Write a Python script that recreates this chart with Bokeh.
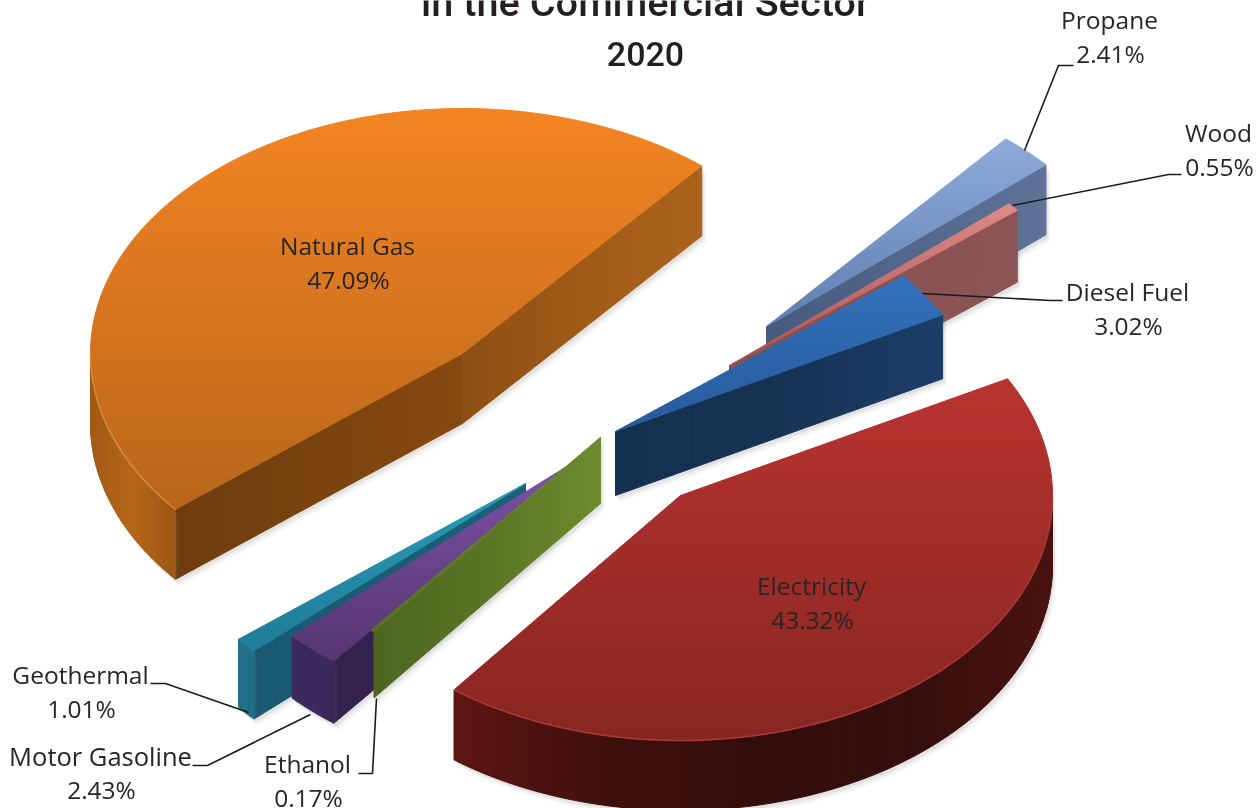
import math
from bokeh.plotting import figure
from bokeh.models import ColumnDataSource
from bokeh.core.properties import value
from bokeh.embed import file_html
from bokeh.resources import INLINE

# ---- data ----
categories = ["Natural Gas", "Propane", "Wood", "Diesel Fuel", "Electricity", "Ethanol", "Motor Gasoline", "Geothermal"]
shares = [47.09, 2.41, 0.55, 3.02, 43.32, 0.17, 2.43, 1.01]
share_labels = ["47.09%", "2.41%", "0.55%", "3.02%", "43.32%", "0.17%", "2.43%", "1.01%"]
title_lines = ["in the Commercial Sector", "2020"]

# ---- layout / style ----
FIRST_ANGLE = 230.5            # clockwise from "north" in the tilted pie plane
RX, RY = 372.0, 245.0
apex = {"Natural Gas": (462, 353), "Propane": (766, 326), "Wood": (729, 365), "Diesel Fuel": (615, 431),
        "Electricity": (680, 495), "Ethanol": (600, 437), "Motor Gasoline": (563, 468), "Geothermal": (525, 483)}
depth = {"Natural Gas": 70, "Propane": 70, "Wood": 72, "Diesel Fuel": 64,
         "Electricity": 70, "Ethanol": 66, "Motor Gasoline": 62, "Geothermal": 68}
top_cols = {"Natural Gas": ("#f48423", "#b8661b"), "Propane": ("#8eabd9", "#5f7fb1"), "Wood": ("#e08a88", "#a85553"),
            "Diesel Fuel": ("#3373bd", "#28599a"), "Electricity": ("#b83330", "#87251f"),
            "Ethanol": ("#6f8f30", "#55701f"), "Motor Gasoline": ("#7c51a5", "#553571"), "Geothermal": ("#2b9ab6", "#1f7c98")}
# wall colour stops run along the wall, left to right on screen
start_wall = {"Natural Gas": ("#6e3c0e", "#7a4310", "#87490f"), "Ethanol": ("#4c661f", "#5a7525", "#6c8c2e"),
              "Motor Gasoline": ("#34224d", "#35234f", "#35234f"), "Geothermal": ("#1a5a70", "#1b5c73", "#1c6078")}
end_wall = {"Natural Gas": ("#8c4f14", "#a05b17", "#ab631b"), "Propane": ("#475a7c", "#53678a", "#5f7398"),
            "Wood": ("#8c4f4f", "#8a5252", "#8c5555"), "Diesel Fuel": ("#14304f", "#173354", "#1c3e69")}
arc_wall = {"Natural Gas": ("#a05a14", "#b4661a", "#9c5714"),
            "Electricity": ("#5e1613", "#3f100d", "#330d0b", "#340e0c", "#4a1310"),
            "Motor Gasoline": ("#3d2a5c", "#3d2a5c", "#3b2858"), "Geothermal": ("#236f8a", "#227088", "#20708a")}
rims = {"Natural Gas": "#d98a3c", "Electricity": "#a93a36"}
paint_order = ["Natural Gas", "Propane", "Wood", "Diesel Fuel", "Geothermal", "Motor Gasoline", "Ethanol", "Electricity"]

text_place = {"Natural Gas": (347, 245), "Propane": (1109, 19), "Wood": (1218, 132), "Diesel Fuel": (1127, 291),
              "Electricity": (811, 585), "Ethanol": (307, 763), "Motor Gasoline": (100, 755), "Geothermal": (80, 674)}
leaders = {"Propane": ([1024, 1058, 1073], [150, 65, 65]), "Wood": ([1012, 1168, 1181], [205, 174, 174]),
           "Diesel Fuel": ([922, 1050, 1062], [293, 300, 300]), "Geothermal": ([248, 165, 150], [712, 683, 683]),
           "Motor Gasoline": ([310, 207, 192], [714, 765, 765]), "Ethanol": ([376, 372, 358], [698, 773, 773])}


def hex2rgb(h):
    return tuple(int(h[i:i + 2], 16) for i in (1, 3, 5))


def mix(stops, f):
    f = max(0.0, min(1.0, f)) * (len(stops) - 1)
    i = min(int(f), len(stops) - 2)
    a, b = hex2rgb(stops[i]), hex2rgb(stops[i + 1])
    t = f - i
    return "#%02x%02x%02x" % tuple(round(a[k] + (b[k] - a[k]) * t) for k in range(3))


def rim_pt(c, th):
    r = math.radians(th)
    return (c[0] + RX * math.sin(r), c[1] - RY * math.cos(r))


def clip_band(poly, y0, y1):
    def cut(pts, keep, isect):
        out = []
        for i, p in enumerate(pts):
            q = pts[(i + 1) % len(pts)]
            if keep(p):
                out.append(p)
            if keep(p) != keep(q):
                out.append(isect(p, q))
        return out
    def at(y):
        return lambda p, q: (p[0] + (q[0] - p[0]) * (y - p[1]) / (q[1] - p[1]), y)
    pts = cut(poly, lambda p: p[1] >= y0, at(y0))
    return cut(pts, lambda p: p[1] <= y1, at(y1)) if pts else []


P = dict(xs=[], ys=[], fill=[], alpha=[], lw=[])


def add(pts, col, alpha=1.0, lw=1.0):
    P["xs"].append([a[0] for a in pts])
    P["ys"].append([a[1] for a in pts])
    P["fill"].append(col)
    P["alpha"].append(alpha)
    P["lw"].append(lw)


def wall(path, d, stops):
    lo = min(a[0] for a in path)
    hi = max(a[0] for a in path)
    outline = path + [(a[0], a[1] + d) for a in reversed(path)]
    for off, al in ((7, .05), (5, .07), (3, .1)):
        add([(a[0] + off * .6, a[1] + off) for a in outline], "#777777", al, 0)
    dense = []
    for a, b in zip(path, path[1:]):
        n = max(1, int(abs(b[0] - a[0]) / 6))
        dense += [(a[0] + (b[0] - a[0]) * k / n, a[1] + (b[1] - a[1]) * k / n) for k in range(n)]
    dense.append(path[-1])
    for a, b in zip(dense, dense[1:]):
        f = ((a[0] + b[0]) / 2 - lo) / max(hi - lo, 1)
        add([a, b, (b[0], b[1] + d), (a[0], a[1] + d)], mix(stops, f))


# angles come straight from the shares
angles = {}
running = FIRST_ANGLE
for name, s in zip(categories, shares):
    start = running if running < 360 or name == categories[0] else running - 360
    angles[name] = (start, start + s * 3.6)
    running += s * 3.6

rim_lines = []
for name in paint_order:
    s, e = angles[name]
    c = apex[name]
    d = depth[name]
    n = max(4, int(e - s))
    arc = [rim_pt(c, s + (e - s) * k / n) for k in range(n + 1)]
    if name in start_wall:
        wall([c, arc[0]] if arc[0][0] > c[0] else [arc[0], c], d, start_wall[name])
    if name in end_wall:
        wall([c, arc[-1]], d, end_wall[name])
    if name in arc_wall:
        a0, a1 = max(s, 90.0), min(e, 270.0)
        m = max(4, int(a1 - a0))
        path = [rim_pt(c, a0 + (a1 - a0) * k / m) for k in range(m + 1)]
        path.sort(key=lambda q: q[0])
        wall(path, d, arc_wall[name])
        if name in rims:
            rim_lines.append(([q[0] for q in path], [q[1] for q in path], rims[name]))
    poly = [c] + arc
    y_top = min(q[1] for q in poly)
    y_bot = max(q[1] for q in poly)
    y = y_top
    while y < y_bot:
        band = clip_band(poly, y, y + 3)
        if len(band) >= 3:
            add(band, mix(top_cols[name], (y - y_top) / max(y_bot - y_top, 1)))
        y += 3

p = figure(width=1260, height=808, x_range=(0, 1260), y_range=(808, 0), output_backend="svg",
           toolbar_location=None, min_border=0, background_fill_color="white", border_fill_color="white")
p.styles = {"position": "fixed", "left": "0px", "top": "0px"}
p.axis.visible = False
p.grid.visible = False
p.outline_line_color = None

src = ColumnDataSource(P)
p.patches("xs", "ys", source=src, fill_color="fill", fill_alpha="alpha", line_color="fill", line_alpha="alpha", line_width="lw")
for xs, ys, col in rim_lines:
    p.line(xs, ys, line_color=col, line_width=1.5)
for name, (lx, ly) in leaders.items():
    p.line(lx, ly, line_color="#1c1c1c", line_width=1.6)

label_font = value("Open Sans")
for name, pct in zip(categories, share_labels):
    x, y = text_place[name]
    fs = "25.5px" if name == "Motor Gasoline" else "24.5px"
    p.text([x], [y], text=[name], text_font=label_font, text_font_size=fs, text_color="#262626",
           text_align="center", text_baseline="middle")
    p.text([x + 1], [y + 34], text=[pct], text_font=label_font, text_font_size="24.5px", text_color="#262626",
           text_align="center", text_baseline="middle")

for t, yy, fs in zip(title_lines, (2, 53), ("39.7px", "34px")):
    p.text([645], [yy], text=[t], text_font=value("Roboto Medium"), text_font_size=fs,
           text_color="#231f20", text_align="center", text_baseline="alphabetic")

open("out.html", "w").write(file_html(p, INLINE))
